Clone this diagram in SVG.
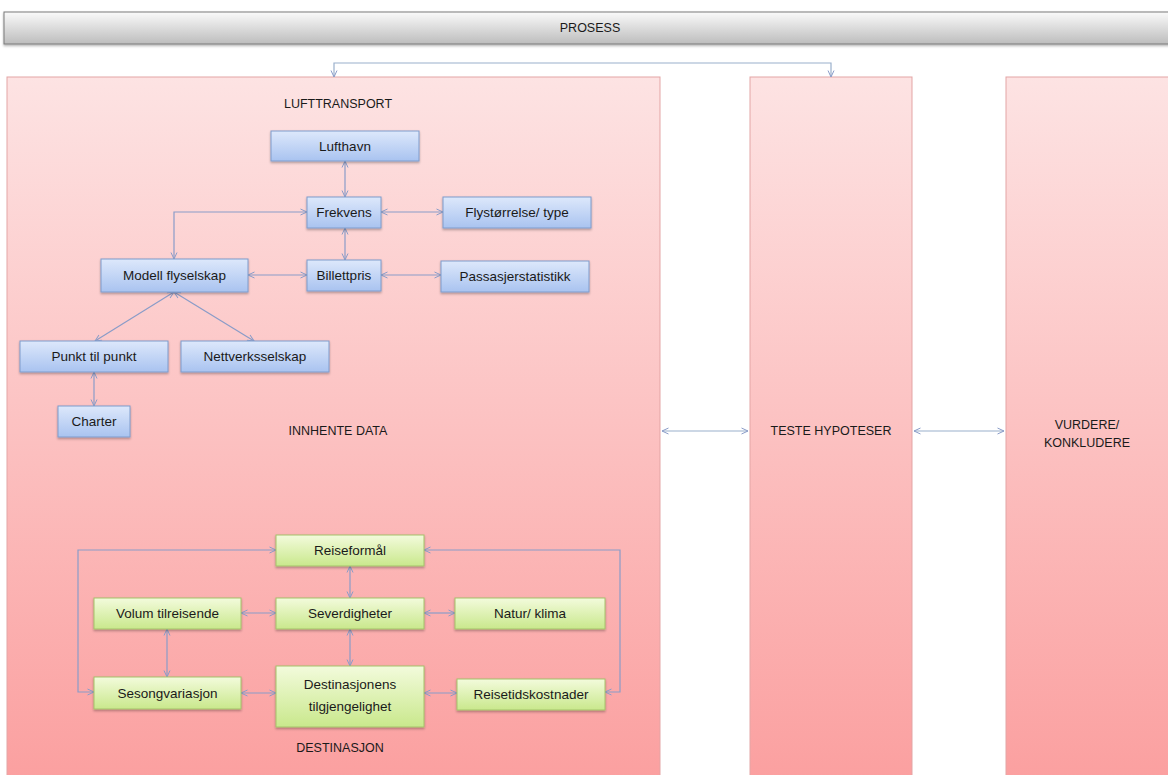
<svg xmlns="http://www.w3.org/2000/svg" width="1168" height="775" viewBox="0 0 1168 775">
<defs>
<linearGradient id="gPanel" x1="0" y1="0" x2="0" y2="1"><stop offset="0" stop-color="#fde3e3"/><stop offset="1" stop-color="#fb9f9f"/></linearGradient>
<linearGradient id="gBar" x1="0" y1="0" x2="0" y2="1"><stop offset="0" stop-color="#fafafa"/><stop offset="1" stop-color="#bdbdbd"/></linearGradient>
<linearGradient id="gBlue" x1="0" y1="0" x2="0" y2="1"><stop offset="0" stop-color="#dde8fb"/><stop offset="1" stop-color="#a9c3f0"/></linearGradient>
<linearGradient id="gGreen" x1="0" y1="0" x2="0" y2="1"><stop offset="0" stop-color="#f3fbdc"/><stop offset="1" stop-color="#c9e88c"/></linearGradient>
<filter id="sh" x="-10%" y="-10%" width="130%" height="140%"><feDropShadow dx="0" dy="1.5" stdDeviation="1" flood-color="#000" flood-opacity="0.3"/></filter>
<marker id="ah" viewBox="0 0 8 8" refX="7.5" refY="4" markerWidth="8" markerHeight="8" markerUnits="userSpaceOnUse" orient="auto-start-reverse"><path d="M1,1 L7.5,4 L1,7" fill="none" stroke="#8a9cc8" stroke-width="1"/></marker>
</defs>
<style>
text{font-family:"Liberation Sans",Arial,sans-serif;fill:#1a1a1a;text-anchor:middle;dominant-baseline:central}
.lbl{font-size:12.5px}
.nt{font-size:13.5px}
.panel{fill:url(#gPanel);stroke:#e3a5a5;stroke-width:1}
.blue{fill:url(#gBlue);stroke:#7e9ccc;stroke-width:1;filter:url(#sh)}
.green{fill:url(#gGreen);stroke:#a5c26a;stroke-width:1;filter:url(#sh)}
.c{fill:none;stroke:#8a9cc8;stroke-width:1.2;marker-start:url(#ah);marker-end:url(#ah)}
.c1{fill:none;stroke:#9ab0cc;stroke-width:1.2;marker-start:url(#ah);marker-end:url(#ah)}
</style>
<rect width="1168" height="775" fill="#ffffff"/>
<g id="prosess">
<rect x="4" y="12" width="1170" height="32" fill="url(#gBar)" stroke="#7a7a7a" stroke-width="1" filter="url(#sh)"/>
<text class="lbl" x="590" y="28">PROSESS</text>
</g>
<g id="innhente-data">
<rect class="panel" x="7" y="77" width="653" height="710"/>
<text class="lbl" x="338" y="104">LUFTTRANSPORT</text>
<text class="lbl" x="338" y="431">INNHENTE DATA</text>
<text class="lbl" x="340" y="748">DESTINASJON</text>
</g>
<g id="teste-hypoteser">
<rect class="panel" x="750" y="77" width="162" height="710"/>
<text class="lbl" x="831" y="431">TESTE HYPOTESER</text>
</g>
<g id="vurdere">
<rect class="panel" x="1006" y="77" width="170" height="710"/>
<text class="lbl" x="1087" y="425">VURDERE/</text>
<text class="lbl" x="1087" y="443">KONKLUDERE</text>
</g>
<g id="connectors">
<path class="c1" d="M334,77 V63 H831 V77"/>
<path class="c1" d="M662,431 H748"/>
<path class="c1" d="M914,431 H1004"/>
<path class="c" d="M345,161 V197"/>
<path class="c" d="M307,212 H174 V259"/>
<path class="c" d="M381,212 H443"/>
<path class="c" d="M345,228 V260"/>
<path class="c" d="M248,275 H307"/>
<path class="c" d="M381,275 H441"/>
<path class="c" d="M174,292 L95,341"/>
<path class="c" d="M174,292 L254,341"/>
<path class="c" d="M94,372 V406"/>
<path class="c" d="M276,550 H78 V692 H94"/>
<path class="c" d="M424,550 H620 V692 H605"/>
<path class="c" d="M350,566 V598"/>
<path class="c" d="M241,613 H276"/>
<path class="c" d="M424,613 H455"/>
<path class="c" d="M167,629 V677"/>
<path class="c" d="M350,629 V666"/>
<path class="c" d="M241,693 H276"/>
<path class="c" d="M424,693 H457"/>
</g>
<g id="lufthavn"><rect class="blue" x="271" y="131" width="148" height="30"/><text class="nt" x="345" y="146">Lufthavn</text></g>
<g id="frekvens"><rect class="blue" x="307" y="197" width="74" height="31"/><text class="nt" x="344" y="212.5">Frekvens</text></g>
<g id="flystorrelse"><rect class="blue" x="443" y="197" width="148" height="31"/><text class="nt" x="517" y="212.5">Flystørrelse/ type</text></g>
<g id="modell"><rect class="blue" x="101" y="259" width="147" height="33"/><text class="nt" x="174.5" y="275.5">Modell flyselskap</text></g>
<g id="billettpris"><rect class="blue" x="307" y="260" width="74" height="31"/><text class="nt" x="344" y="275.5">Billettpris</text></g>
<g id="passasjer"><rect class="blue" x="441" y="261" width="148" height="31"/><text class="nt" x="515" y="276.5">Passasjerstatistikk</text></g>
<g id="punkt"><rect class="blue" x="20" y="341" width="148" height="31"/><text class="nt" x="94" y="356.5">Punkt til punkt</text></g>
<g id="nettverk"><rect class="blue" x="181" y="341" width="148" height="31"/><text class="nt" x="255" y="356.5">Nettverksselskap</text></g>
<g id="charter"><rect class="blue" x="58" y="406" width="72" height="31"/><text class="nt" x="94" y="421.5">Charter</text></g>
<g id="reiseformal"><rect class="green" x="276" y="535" width="148" height="31"/><text class="nt" x="350" y="550.5">Reiseformål</text></g>
<g id="volum"><rect class="green" x="94" y="598" width="147" height="31"/><text class="nt" x="167.5" y="613.5">Volum tilreisende</text></g>
<g id="severdigheter"><rect class="green" x="276" y="598" width="148" height="31"/><text class="nt" x="350" y="613.5">Severdigheter</text></g>
<g id="natur"><rect class="green" x="455" y="598" width="150" height="31"/><text class="nt" x="530" y="613.5">Natur/ klima</text></g>
<g id="sesong"><rect class="green" x="94" y="677" width="147" height="32"/><text class="nt" x="167.5" y="693">Sesongvariasjon</text></g>
<g id="destinasjonens"><rect class="green" x="276" y="666" width="148" height="61"/><text class="nt" x="350" y="684">Destinasjonens</text><text class="nt" x="350" y="706">tilgjengelighet</text></g>
<g id="reisetid"><rect class="green" x="457" y="679" width="148" height="31"/><text class="nt" x="531" y="694.5">Reisetidskostnader</text></g>
</svg>
